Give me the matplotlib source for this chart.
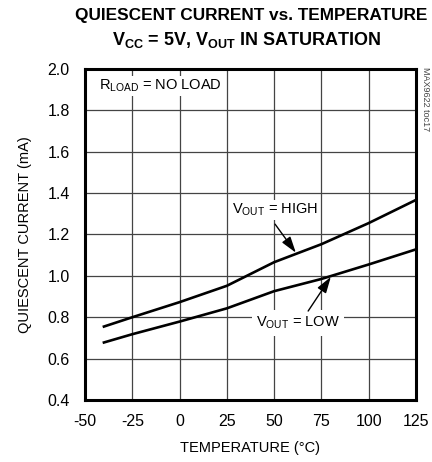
"""Quiescent current vs. temperature (Vcc = 5V, Vout in saturation)."""

import matplotlib

matplotlib.use("Agg")
import matplotlib.pyplot as plt

FONT = ["Liberation Sans", "DejaVu Sans"]
plt.rcParams["font.family"] = FONT
plt.rcParams["mathtext.fontset"] = "custom"
plt.rcParams["mathtext.rm"] = FONT[0]
plt.rcParams["mathtext.bf"] = FONT[0] + ":bold"

# data
temperature = [-40, -25, 0, 25, 50, 75, 100, 125]
current_high = [0.755, 0.80, 0.873, 0.952, 1.066, 1.153, 1.255, 1.367]
current_low = [0.678, 0.718, 0.779, 0.843, 0.926, 0.985, 1.055, 1.128]

x_ticks = [-50, -25, 0, 25, 50, 75, 100, 125]
y_ticks = [0.4, 0.6, 0.8, 1.0, 1.2, 1.4, 1.6, 1.8, 2.0]

fig = plt.figure(figsize=(4.32, 4.62), dpi=100)
ax = fig.add_axes([0.1968, 0.1342, 0.766, 0.7165])

ax.plot(temperature, current_high, color="black", lw=1.9, zorder=3)
ax.plot(temperature, current_low, color="black", lw=1.9, zorder=3)

ax.set_xlim(-50, 125)
ax.set_ylim(0.4, 2.0)
ax.set_xticks(x_ticks)
ax.set_yticks(y_ticks)
ax.set_xticklabels([str(t) for t in x_ticks])
ax.set_yticklabels([f"{v:.1f}" for v in y_ticks])
ax.tick_params(axis="x", length=0, labelsize=11.5, pad=10)
ax.tick_params(axis="y", length=0, labelsize=11.5, pad=11)
ax.grid(True, color="#444444", lw=0.9)
ax.set_axisbelow(True)
for sp in ax.spines.values():
    sp.set_linewidth(2.2)

ax.set_xlabel("TEMPERATURE (°C)", fontsize=10.5, labelpad=9)
ax.set_ylabel("QUIESCENT CURRENT (mA)", fontsize=10.5, labelpad=11)

fig.text(0.581, 0.966, "QUIESCENT CURRENT vs. TEMPERATURE", ha="center", va="center",
         fontsize=12.4, fontweight="bold")
fig.text(0.570, 0.913, r"V$_{\mathbf{CC}}$ = 5V, V$_{\mathbf{OUT}}$ IN SATURATION",
         ha="center", va="center", fontsize=13, fontweight="bold")

box = dict(facecolor="white", edgecolor="none", pad=1.5)
ax.text(-42.6, 1.918, r"R$_{\mathrm{LOAD}}$ = NO LOAD", fontsize=10.5, ha="left",
        va="center", bbox=box, zorder=4)
ax.text(50.5, 1.318, r"V$_{\mathrm{OUT}}$ = HIGH", fontsize=10.5, ha="center",
        va="center", bbox=box, zorder=4)
ax.text(62.6, 0.772, r"V$_{\mathrm{OUT}}$ = LOW", fontsize=10.5, ha="center",
        va="center", bbox=dict(facecolor="white", edgecolor="none", pad=3), zorder=4)

arrow = dict(arrowstyle="-|>,head_length=0.7,head_width=0.22", color="black", lw=1.0,
             mutation_scale=14, shrinkA=0, shrinkB=0)
ax.annotate("", xy=(61.5, 1.112), xytext=(50.5, 1.25), arrowprops=arrow, zorder=5)
ax.annotate("", xy=(80.0, 0.995), xytext=(68.0, 0.83), arrowprops=arrow, zorder=5)

fig.text(0.984, 0.786, "MAX9622 toc17", rotation=270, ha="center", va="center",
         fontsize=6.5, color="#444444")

fig.savefig("out.png", dpi=100)
